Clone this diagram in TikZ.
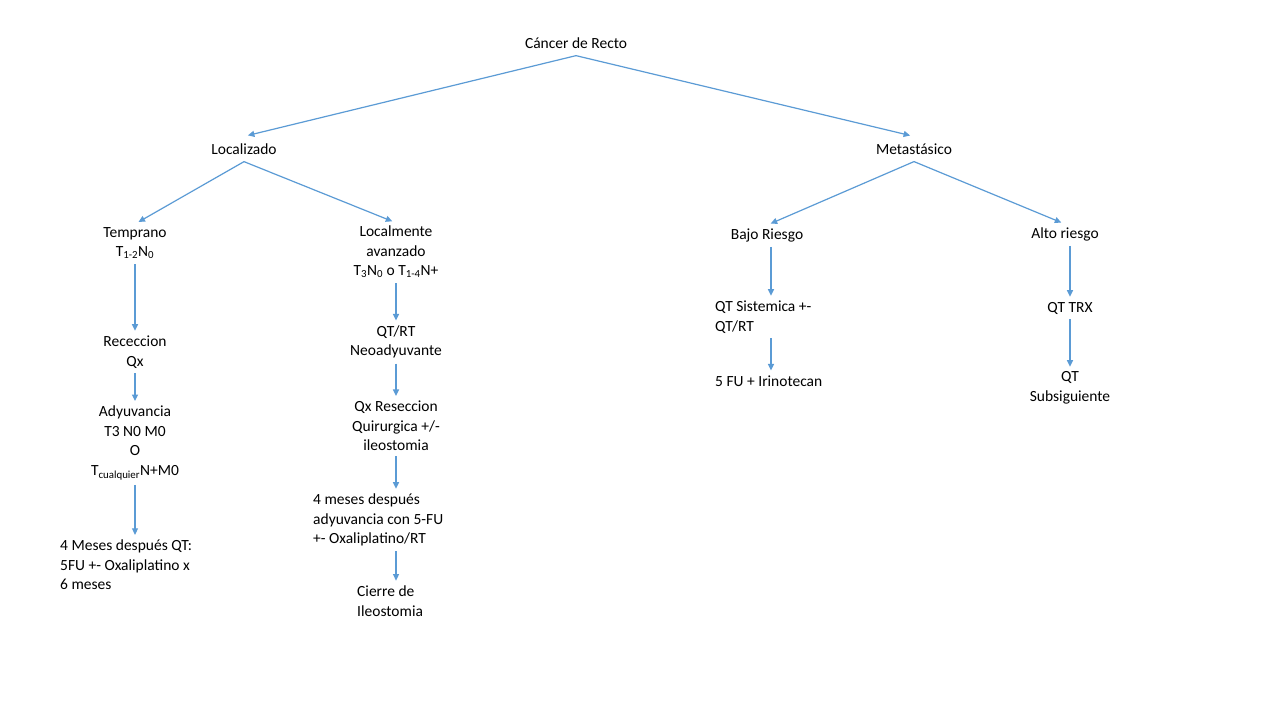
\documentclass[tikz,border=0pt]{standalone}
\usepackage{fontspec}
\setmainfont{Carlito}
\usetikzlibrary{arrows.meta,positioning}
\definecolor{crblue}{RGB}{91,155,213}
\tikzset{arrow/.style={line width=1.2pt,-{Triangle[width=6pt,length=6.5pt]},color=crblue,shorten <=2pt,shorten >=2pt}}
\tikzset{diag/.style={arrow,shorten <=0pt,shorten >=4pt}}
\tikzset{etapa/.style={align=center,inner sep=3pt,font=\fontsize{15.5}{19.5}\selectfont}}
\tikzset{rama/.style={etapa,inner ysep=7pt}}
\tikzset{etapaizq/.style={etapa,align=left,anchor=west}}

\begin{document}
\begin{tikzpicture}[x=1pt,y=-1pt]
\fill[white] (0,0) rectangle (1280,720);
\useasboundingbox (0,0) rectangle (1280,720);
% Root and main branches
\node[rama] (cancer) at (576,43) {Cáncer de Recto};
\node[rama] (local) at (244,149) {Localizado};
\node[rama] (meta) at (914,149) {Metastásico};

% Localizado
\node[etapa] (temp) at (135,243) {Temprano\\T\textsubscript{1-2}N\textsubscript{0}};
\node[etapa] (avanz) at (396,252) {Localmente\\avanzado\\T\textsubscript{3}N\textsubscript{0} o T\textsubscript{1-4}N+};
\node[etapa] (recec) at (135,352) {Receccion\\Qx};
\node[etapa] (adyu) at (135,443) {Adyuvancia\\T3 N0 M0\\O\\T\textsubscript{cualquier}N+M0};
\node[etapaizq] (cuatro) at (57,565) {4 Meses después QT:\\5FU +- Oxaliplatino x\\6 meses};
\node[etapa] (qtrt) at (396,342) {QT/RT\\Neoadyuvante};
\node[etapa] (resec) at (396,426) {Qx Reseccion\\Quirurgica +/-\\ileostomia};
\node[etapaizq] (meses) at (310,520) {4 meses después\\adyuvancia con 5-FU\\+- Oxaliplatino/RT};
\node[etapaizq] (cierre) at (354,601) {Cierre de\\Ileostomia};

% Metastasico
\node[etapa] (bajo) at (767,235) {Bajo Riesgo};
\node[etapa] (alto) at (1065,234) {Alto riesgo};
\node[etapaizq] (sist) at (712,317) {QT Sistemica +-\\QT/RT};
\node[etapaizq] (irino) at (712,381) {5 FU + Irinotecan};
\node[etapa] (trx) at (1070,308) {QT TRX};
\node[etapa] (subsig) at (1070,388) {QT\\Subsiguiente};

% Arrows
\draw[diag] (cancer.south) -- (local.north);
\draw[diag] (cancer.south) -- (meta.north);
\draw[diag] (local.south) -- (temp.north);
\draw[diag] (local.south) -- (avanz.north);
\draw[diag] (meta.south) -- (bajo.north);
\draw[diag] (meta.south) -- (alto.north);
\draw[arrow] (temp.south) -- (recec.north);
\draw[arrow] (recec.south) -- (adyu.north);
\draw[arrow] (adyu.south) -- (adyu.south |- cuatro.north);
\draw[arrow] (avanz.south) -- (qtrt.north);
\draw[arrow] (qtrt.south) -- (resec.north);
\draw[arrow] (resec.south) -- (resec.south |- meses.north);
\draw[arrow] (meses.south -| resec.south) -- (resec.south |- cierre.north);
\draw[arrow] ([xshift=4pt]bajo.south) -- ([xshift=4pt]bajo.south |- sist.north);
\draw[arrow] ([xshift=4pt]bajo.south |- sist.south) -- ([xshift=4pt]bajo.south |- irino.north);
\draw[arrow] (alto.south -| trx.north) -- (trx.north);
\draw[arrow] (trx.south) -- (subsig.north);
\end{tikzpicture}
\end{document}
